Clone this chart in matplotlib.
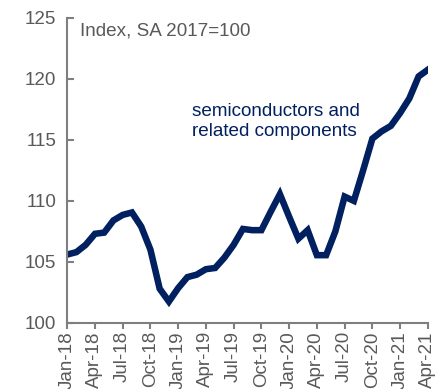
import matplotlib.pyplot as plt
import numpy as np
import pandas as pd

plt.rcParams['font.family'] = ['Liberation Sans', 'DejaVu Sans']

# monthly index, Jan-18 .. Apr-21
months = pd.date_range('2018-01-01', '2021-04-01', freq='MS')
index_vals = [
    105.6, 105.8, 106.4, 107.3, 107.4, 108.4, 108.85, 109.05, 107.9, 106.0, 102.8, 101.75,
    102.85, 103.75, 103.95, 104.4, 104.5, 105.35, 106.4, 107.7, 107.6, 107.6, 109.1, 110.55,
    108.7, 106.9, 107.6, 105.55, 105.55, 107.5, 110.35, 110.0, 112.5, 115.1, 115.7, 116.15,
    117.2, 118.4, 120.2, 120.75,
]
tick_labels = [d.strftime('%b-%y') for d in months[::3]]

navy = '#002060'
grey = '#7f7f7f'
text_grey = '#595959'

fig = plt.figure(figsize=(4.48, 3.89), dpi=100)
ax = fig.add_axes([0.15, 0.17, 0.805, 0.784])

x = np.arange(len(months))
ax.plot(x, index_vals, color=navy, lw=4.7, solid_joinstyle='miter')

ax.set_xlim(0, len(months) - 1)
ax.set_ylim(100, 125)
ax.set_yticks([100, 105, 110, 115, 120, 125])
ax.set_xticks(x[::3])
ax.set_xticklabels(tick_labels, rotation=90)

for side in ['top', 'right']:
    ax.spines[side].set_visible(False)
for side in ['left', 'bottom']:
    ax.spines[side].set_color(grey)
    ax.spines[side].set_linewidth(1.5)

ax.tick_params(axis='y', direction='in', length=5, width=1.5, color=grey,
               labelsize=13.5, labelcolor=text_grey, pad=8)
ax.tick_params(axis='x', direction='out', length=4, width=1.5, color=grey,
               labelsize=13.5, labelcolor=text_grey, pad=2)

ax.text(0.035, 0.985, 'Index, SA 2017=100', transform=ax.transAxes,
        fontsize=13.6, color=text_grey, va='top', ha='left')
ax.text(0.345, 0.72, 'semiconductors and\nrelated components', transform=ax.transAxes,
        fontsize=13.6, color=navy, va='top', ha='left', linespacing=1.2)

fig.savefig('out.png', dpi=100)
